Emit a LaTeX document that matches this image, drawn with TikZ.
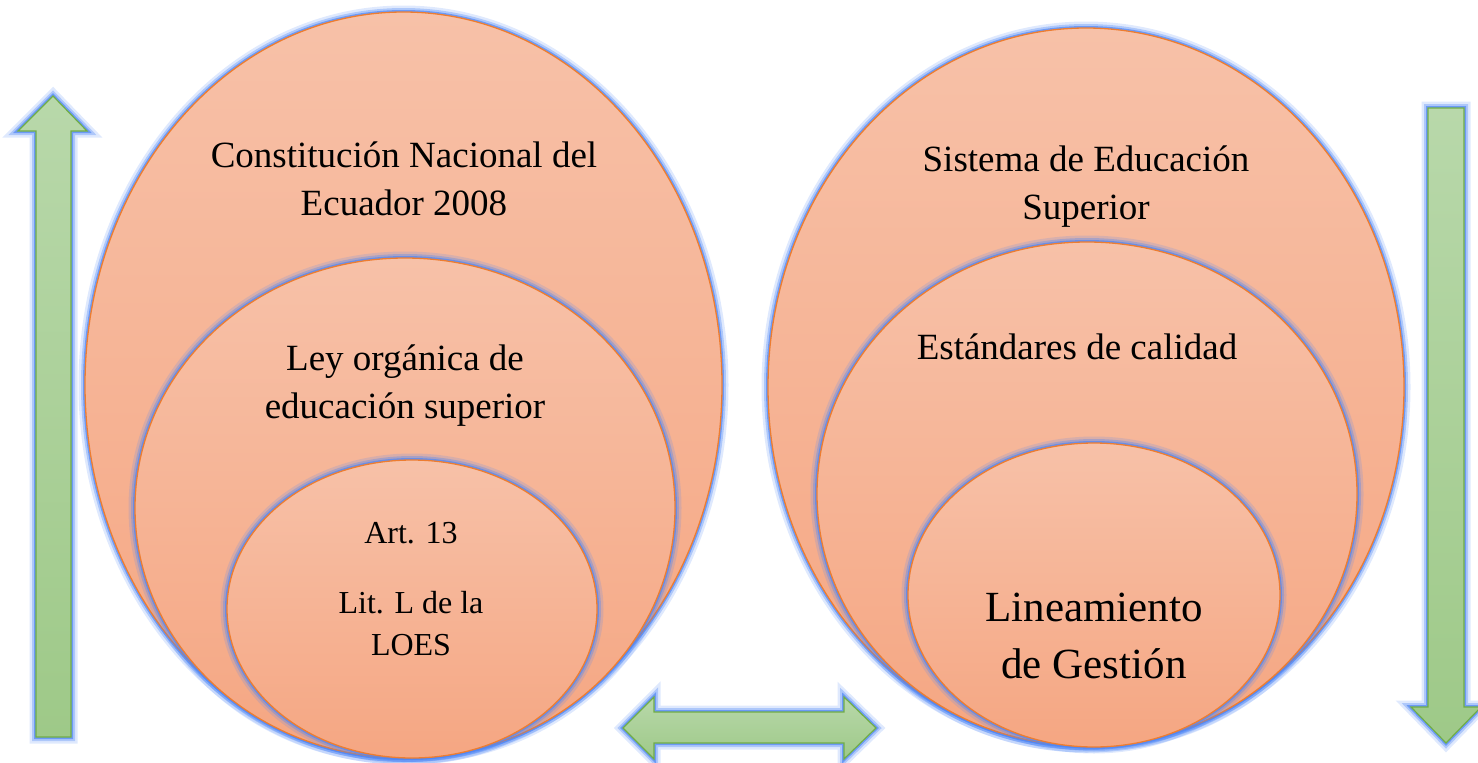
\documentclass[tikz,border=0pt]{standalone}
\usepackage{fontspec}
\setmainfont{Liberation Serif}
\usetikzlibrary{shapes.geometric}
\definecolor{glowblue}{RGB}{80,135,245}
\definecolor{ellborder}{RGB}{237,125,49}
\definecolor{elltop}{RGB}{247,193,168}
\definecolor{ellbot}{RGB}{245,166,130}
\definecolor{arrtop}{RGB}{184,216,170}
\definecolor{arrbot}{RGB}{158,201,136}
\definecolor{arrborder}{RGB}{112,173,71}
\tikzset{
  glow/.style={preaction={draw=glowblue,line width=13pt,opacity=0.18},
               preaction={draw=glowblue,line width=8pt,opacity=0.35},
               preaction={draw=glowblue,line width=4pt,opacity=0.7}},
  bubble/.style={ellipse,inner sep=0pt,outer sep=0pt,glow,draw=ellborder,line width=1.3pt,
                 top color=elltop,bottom color=ellbot},
  blockarrow/.style={glow,draw=arrborder,line width=1.2pt,line join=miter,
                 top color=arrtop,bottom color=arrbot},
  label/.style={align=center,inner sep=0pt,text=black},
  bigtext/.style={label,font=\fontsize{37}{48}\selectfont},
  smalltext/.style={label,font=\fontsize{32}{42}\selectfont},
  hugetext/.style={label,font=\fontsize{43}{57}\selectfont},
}
\begin{document}
\begin{tikzpicture}[x=1pt,y=-1pt]
\useasboundingbox (0,0) rectangle (1478,763);
% left group
\node[bubble,minimum width=637pt,minimum height=746pt] (L1) at (403.5,385) {};
\node[bubble,minimum width=540pt,minimum height=500pt] (L2) at (405,508) {};
\node[bubble,minimum width=370pt,minimum height=298pt] (L3) at (412,609) {};
% right group
\node[bubble,minimum width=636pt,minimum height=718pt] (R1) at (1086,387) {};
\node[bubble,minimum width=540pt,minimum height=504pt] (R2) at (1087,494) {};
\node[bubble,minimum width=372pt,minimum height=304pt] (R3) at (1094,595) {};
% texts
\node[bigtext] (t1) at (404,179) {Constitución Nacional del\\Ecuador 2008};
\node[bigtext] (t2) at (405,386) {Ley orgánica de\\educación superior};
\node[smalltext] (t3) at (411,589) {Art. 13\\[28pt]Lit. L de la\\LOES};
\node[bigtext] (t4) at (1086,187) {Sistema de Educación\\Superior};
\node[bigtext] (t5) at (1077,347) {Estándares de calidad};
\node[hugetext] (t6) at (1094,636) {Lineamiento\\de Gestión};
% arrows
\path[blockarrow] (36,737) -- (36,131) -- (18,131) -- (53,96) -- (87,131) -- (71,131) -- (71,737) -- cycle;
\path[blockarrow] (1428,108) -- (1464,108) -- (1464,707) -- (1481,707) -- (1446,743) -- (1411,707) -- (1428,707) -- cycle;
\path[blockarrow] (623,728) -- (654,697) -- (654,712) -- (844,712) -- (844,697) -- (876,728) -- (844,759) -- (844,743) -- (654,743) -- (654,759) -- cycle;
\end{tikzpicture}
\end{document}
